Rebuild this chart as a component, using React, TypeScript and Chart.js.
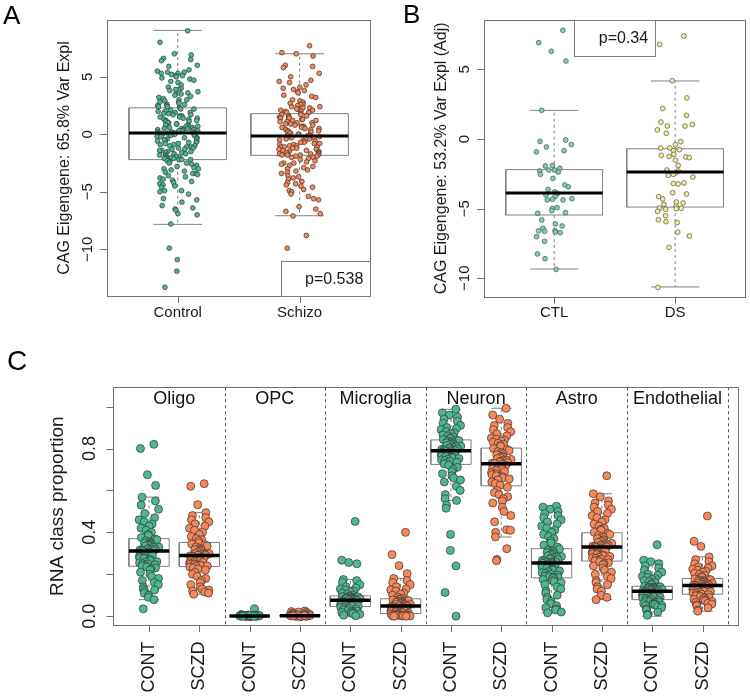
import React, { useEffect, useRef } from "react";
import { Chart, registerables } from "chart.js";

Chart.register(...registerables);

const FONT = '"Liberation Sans", Arial, Helvetica, sans-serif';

// ---------------- Panel A ----------------
const aGroups = ["Control", "Schizo"];
const aQ1 = [-2.2, -1.83];
const aMedian = [0.12, -0.15];
const aQ3 = [2.3, 1.8];
const aWhiskerLow = [-7.83, -7.08];
const aWhiskerHigh = [9.04, 7.0];
const aYTicks = [-10, -5, 0, 5];
const aYTickLabels = ["\u221210", "\u22125", "0", "5"];
const aYTitle = "CAG Eigengene: 65.8% Var Expl";
const aPValue = "p=0.538";
const aControl = [
  9.0, 8.0, 7.0, 6.9, 6.6, 6.5, 6.4, 6.0, 5.9, 5.6, 5.5, 5.4, 5.4, 5.3, 5.3, 5.2, 5.1, 5.1, 5.0, 4.9, 4.8, 4.7, 4.6, 4.5, 4.3,
  4.1, 4.0, 3.9, 3.9, 3.8, 3.7, 3.6, 3.5, 3.5, 3.4, 3.3, 3.2, 3.1, 3.0, 3.0, 2.9, 2.8, 2.8, 2.7, 2.6, 2.6, 2.5, 2.5, 2.4, 2.4,
  2.3, 2.2, 2.2, 2.1, 2.0, 2.0, 1.9, 1.9, 1.8, 1.8, 1.7, 1.7, 1.6, 1.6, 1.5, 1.5, 1.4, 1.4, 1.3, 1.3, 1.2, 1.2, 1.1, 1.1, 1.0,
  1.0, 0.9, 0.9, 0.8, 0.8, 0.7, 0.7, 0.7, 0.6, 0.6, 0.5, 0.5, 0.5, 0.4, 0.4, 0.4, 0.3, 0.3, 0.3, 0.2, 0.2, 0.2, 0.1, 0.1, 0.1,
  0.1, 0.0, 0.0, -0.1, -0.1, -0.2, -0.2, -0.3, -0.3, -0.4, -0.4, -0.5, -0.5, -0.6, -0.6, -0.7, -0.7, -0.8, -0.8, -0.9, -0.9,
  -1.0, -1.0, -1.1, -1.1, -1.2, -1.2, -1.3, -1.3, -1.4, -1.4, -1.5, -1.5, -1.6, -1.6, -1.7, -1.7, -1.8, -1.8, -1.9, -1.9,
  -2.0, -2.0, -2.0, -2.1, -2.1, -2.1, -2.2, -2.2, -2.2,
  -2.3, -2.4, -2.5, -2.5, -2.6, -2.7, -2.8, -2.9, -3.0, -3.0, -3.1, -3.2, -3.3, -3.4, -3.4, -3.5, -3.6, -3.7, -3.8, -3.9,
  -4.0, -4.1, -4.2, -4.3, -4.4, -4.5, -4.6, -4.9, -4.9, -5.0, -5.2, -5.6, -5.7, -5.9, -6.2, -6.4, -6.5, -6.6, -6.9, -7.0,
  -7.8, -9.9, -10.9, -11.9, -13.3,
];
const aSchizo = [
  7.7, 7.1, 7.0, 6.8, 6.0, 5.9, 5.8, 5.3, 5.0, 4.7, 4.6, 4.5, 4.3, 4.1, 4.0, 3.9, 3.8, 3.7, 3.6, 3.4, 3.3, 3.2, 3.0, 2.9,
  2.8, 2.7, 2.6, 2.6, 2.5, 2.4, 2.4, 2.3, 2.3, 2.2, 2.2, 2.1, 2.1, 2.0, 2.0, 1.9, 1.9, 1.8,
  1.7, 1.7, 1.6, 1.6, 1.5, 1.5, 1.4, 1.4, 1.3, 1.3, 1.2, 1.2, 1.1, 1.1, 1.0, 1.0, 0.9, 0.9, 0.8, 0.8, 0.7, 0.7, 0.6, 0.6,
  0.5, 0.5, 0.4, 0.4, 0.3, 0.3, 0.2, 0.2, 0.1, 0.1, 0.0, 0.0, -0.1, -0.1, -0.1, -0.1,
  -0.2, -0.3, -0.3, -0.4, -0.4, -0.5, -0.5, -0.6, -0.6, -0.7, -0.7, -0.8, -0.8, -0.9, -0.9, -1.0, -1.0, -1.1, -1.1, -1.1,
  -1.2, -1.2, -1.3, -1.3, -1.4, -1.4, -1.5, -1.5, -1.6, -1.6, -1.6, -1.7, -1.7, -1.7, -1.8, -1.8, -1.8, -1.8, -1.9, -1.9,
  -2.0, -2.0,
  -2.1, -2.2, -2.3, -2.4, -2.5, -2.5, -2.6, -2.7, -2.8, -2.9, -3.0, -3.1, -3.2, -3.3, -3.4, -3.6, -3.7, -3.8, -3.9, -4.1,
  -4.2, -4.3, -4.4, -4.5, -4.6, -4.8, -4.9, -5.0, -5.2, -5.4, -5.6, -5.7, -6.3, -6.5, -6.7, -6.9, -7.1, -8.8, -9.9,
];

// ---------------- Panel B ----------------
const bGroups = ["CTL", "DS"];
const bQ1 = [-5.46, -4.89];
const bMedian = [-3.88, -2.37];
const bQ3 = [-2.2, -0.7];
const bWhiskerLow = [-9.34, -10.63];
const bWhiskerHigh = [2.06, 4.17];
const bYTicks = [-10, -5, 0, 5];
const bYTickLabels = ["\u221210", "\u22125", "0", "5"];
const bYTitle = "CAG Eigengene: 53.2% Var Expl (Adj)";
const bPValue = "p=0.34";
const bCTL = [
  7.81, 6.92, 6.3, 5.6, 2.06, -0.07, -0.17, -0.4, -0.57, -0.84, -0.93, -1.94, -2.1, -2.23, -2.3, -2.23, -2.37, -1.9, -2.83,
  -2.54, -3.3, -3.43, -3.62, -3.8, -3.93, -4.02, -3.9, -4.14, -4.33, -4.38, -4.29, -4.38, -4.93, -4.98, -5.15, -5.29, -5.34,
  -5.82, -6.1, -6.25, -6.42, -6.6, -6.6, -6.68, -6.63, -6.73, -7.02, -7.35, -8.26, -8.6, -9.37,
];
const bDS = [
  7.4, 6.8, 4.19, 2.95, 2.2, 1.7, 1.22, 1.05, 0.93, 0.93, 0.65, 0.41, -0.19, -0.41, -0.65, -0.65, -0.77, -0.84, -1.1, -1.17,
  -1.29, -1.34, -1.25, -1.53, -1.9, -2.23, -2.3, -2.4, -2.54, -2.61, -2.73, -3.16, -3.23, -3.2, -3.86, -3.95, -4.14, -4.31,
  -4.53, -4.6, -4.7, -4.84, -4.96, -5.0, -5.05, -4.98, -5.2, -5.51, -5.8, -5.94, -6.0, -6.7, -6.97, -7.78, -10.66,
];

// ---------------- Panel C ----------------
const cCellTypes = ["Oligo", "OPC", "Microglia", "Neuron", "Astro", "Endothelial"];
const cConditions = ["CONT", "SCZD"];
const cQ1 = [0.238, 0.237, 0.0, 0.0, 0.046, 0.013, 0.724, 0.622, 0.183, 0.263, 0.079, 0.105];
const cMedian = [0.311, 0.289, 0.001, 0.002, 0.076, 0.049, 0.789, 0.727, 0.254, 0.33, 0.119, 0.146];
const cQ3 = [0.37, 0.352, 0.003, 0.005, 0.097, 0.083, 0.841, 0.802, 0.322, 0.398, 0.143, 0.18];
const cWhiskerLow = [0.079, 0.105, 0.0, 0.0, 0.0, 0.0, 0.552, 0.378, 0.016, 0.079, 0.0, 0.024];
const cWhiskerHigh = [0.568, 0.494, 0.008, 0.012, 0.175, 0.18, 0.987, 0.992, 0.525, 0.584, 0.267, 0.283];
const cYTicks = [0, 0.2, 0.4, 0.6, 0.8, 1.0];
const cYTickLabels = ["0.0", "", "0.4", "", "0.8", ""];
const cYTitle = "RNA class proportion";

const cOligoCont = [
  0.82, 0.8, 0.675, 0.624, 0.568, 0.55, 0.53, 0.51, 0.49, 0.47, 0.46, 0.45, 0.44, 0.43, 0.42, 0.41, 0.4, 0.39, 0.385, 0.375,
  0.368, 0.365, 0.36, 0.355, 0.35, 0.348, 0.345, 0.34, 0.338, 0.335, 0.33, 0.328, 0.325, 0.322, 0.32, 0.318, 0.316, 0.315,
  0.313, 0.312, 0.31, 0.305, 0.3, 0.298, 0.295, 0.29, 0.285, 0.28, 0.278, 0.275, 0.27, 0.265, 0.26, 0.258, 0.255, 0.25,
  0.248, 0.245, 0.242, 0.24, 0.235, 0.23, 0.225, 0.22, 0.21, 0.2, 0.19, 0.18, 0.17, 0.16, 0.15, 0.14, 0.13, 0.125, 0.12,
  0.11, 0.1, 0.09, 0.079, 0.035,
];
const cOligoSczd = [
  0.632, 0.62, 0.532, 0.494, 0.48, 0.47, 0.46, 0.45, 0.44, 0.43, 0.42, 0.41, 0.4, 0.39, 0.38, 0.37, 0.365, 0.36, 0.35, 0.345,
  0.34, 0.335, 0.33, 0.325, 0.32, 0.318, 0.315, 0.31, 0.305, 0.3, 0.298, 0.296, 0.294, 0.292, 0.291, 0.29, 0.288, 0.285,
  0.28, 0.277, 0.274, 0.27, 0.267, 0.264, 0.26, 0.257, 0.254, 0.25, 0.248, 0.246, 0.244, 0.242, 0.24, 0.238, 0.235, 0.23,
  0.225, 0.22, 0.21, 0.2, 0.19, 0.18, 0.17, 0.16, 0.15, 0.14, 0.13, 0.125, 0.12, 0.115, 0.11, 0.105,
];
const cOpcCont = [
  0.035, 0.008, 0.006, 0.005, 0.005, 0.004, 0.004, 0.003, 0.003, 0.003, 0.002, 0.002, 0.002, 0.002, 0.001, 0.001, 0.001,
  0.001, 0.001, 0.001, 0, 0, 0, 0, 0, 0, 0, 0, 0, 0, 0.002, 0.003, 0.001, 0, 0.004, 0.002, 0, 0.001, 0.003, 0,
];
const cOpcSczd = [
  0.025, 0.022, 0.02, 0.018, 0.015, 0.012, 0.01, 0.009, 0.008, 0.007, 0.006, 0.005, 0.005, 0.004, 0.004, 0.003, 0.003,
  0.002, 0.002, 0.002, 0.001, 0.001, 0.001, 0, 0, 0, 0, 0, 0, 0, 0.003, 0.002, 0.001, 0.004, 0.006, 0, 0.001, 0.002, 0, 0.003,
];
const cMicroCont = [
  0.452, 0.267, 0.256, 0.25, 0.175, 0.17, 0.16, 0.15, 0.14, 0.135, 0.13, 0.125, 0.12, 0.115, 0.11, 0.105, 0.1, 0.096, 0.095,
  0.094, 0.093, 0.092, 0.09, 0.089, 0.088, 0.087, 0.086, 0.085, 0.084, 0.083, 0.082, 0.08, 0.079, 0.078, 0.077, 0.075,
  0.073, 0.072, 0.07, 0.068, 0.066, 0.065, 0.063, 0.061, 0.06, 0.058, 0.056, 0.055, 0.053, 0.051, 0.05, 0.048, 0.047,
  0.045, 0.042, 0.04, 0.037, 0.035, 0.032, 0.03, 0.027, 0.025, 0.022, 0.02, 0.017, 0.015, 0.012, 0.01, 0.005, 0.002,
];
const cMicroSczd = [
  0.4, 0.294, 0.241, 0.203, 0.18, 0.17, 0.16, 0.15, 0.14, 0.13, 0.125, 0.12, 0.11, 0.105, 0.1, 0.09, 0.085, 0.082, 0.08,
  0.078, 0.076, 0.074, 0.072, 0.07, 0.068, 0.066, 0.064, 0.062, 0.06, 0.058, 0.056, 0.054, 0.052, 0.051, 0.05, 0.048,
  0.046, 0.044, 0.042, 0.04, 0.038, 0.036, 0.034, 0.032, 0.03, 0.028, 0.026, 0.024, 0.022, 0.02, 0.018, 0.016, 0.014,
  0.012, 0.011, 0.01, 0.009, 0.008, 0.007, 0.006, 0.005, 0.004, 0.003, 0.003, 0.002, 0.002, 0.001, 0.001, 0, 0,
];
const cNeuronCont = [
  0.987, 0.97, 0.96, 0.95, 0.94, 0.93, 0.92, 0.91, 0.9, 0.895, 0.89, 0.88, 0.875, 0.87, 0.865, 0.86, 0.855, 0.85, 0.847,
  0.843, 0.84, 0.838, 0.835, 0.832, 0.83, 0.827, 0.824, 0.821, 0.818, 0.815, 0.812, 0.809, 0.806, 0.803, 0.8, 0.798,
  0.796, 0.794, 0.792, 0.79, 0.788, 0.785, 0.782, 0.779, 0.776, 0.773, 0.77, 0.767, 0.764, 0.761, 0.758, 0.755, 0.752,
  0.749, 0.746, 0.743, 0.739, 0.735, 0.731, 0.727, 0.72, 0.71, 0.7, 0.69, 0.68, 0.67, 0.66, 0.65, 0.64, 0.62, 0.6, 0.58,
  0.56, 0.552, 0.53, 0.515, 0.39, 0.314, 0.24, 0.113, 0.0,
];
const cNeuronSczd = [
  0.992, 0.96, 0.94, 0.92, 0.91, 0.9, 0.89, 0.88, 0.87, 0.86, 0.85, 0.845, 0.84, 0.835, 0.83, 0.825, 0.82, 0.815, 0.81,
  0.8, 0.795, 0.79, 0.785, 0.78, 0.775, 0.77, 0.765, 0.76, 0.756, 0.752, 0.748, 0.745, 0.742, 0.739, 0.736, 0.733, 0.73,
  0.728, 0.725, 0.72, 0.715, 0.71, 0.705, 0.7, 0.695, 0.69, 0.685, 0.68, 0.675, 0.67, 0.665, 0.66, 0.655, 0.65, 0.64,
  0.633, 0.625, 0.615, 0.6, 0.59, 0.58, 0.57, 0.56, 0.55, 0.54, 0.52, 0.5, 0.48, 0.45, 0.413, 0.41, 0.4, 0.378, 0.322,
  0.271, 0.265,
];
const cAstroCont = [
  0.525, 0.52, 0.51, 0.5, 0.49, 0.48, 0.47, 0.46, 0.45, 0.44, 0.43, 0.42, 0.41, 0.4, 0.39, 0.38, 0.37, 0.36, 0.35, 0.34,
  0.33, 0.32, 0.316, 0.312, 0.308, 0.304, 0.3, 0.296, 0.292, 0.288, 0.285, 0.282, 0.279, 0.276, 0.273, 0.27, 0.267, 0.264,
  0.261, 0.259, 0.257, 0.255, 0.252, 0.249, 0.246, 0.243, 0.24, 0.236, 0.232, 0.228, 0.224, 0.22, 0.216, 0.212, 0.208,
  0.204, 0.2, 0.197, 0.194, 0.191, 0.188, 0.186, 0.184, 0.18, 0.175, 0.17, 0.165, 0.16, 0.15, 0.14, 0.13, 0.12, 0.11, 0.1,
  0.09, 0.08, 0.07, 0.06, 0.05, 0.04, 0.035, 0.03, 0.02, 0.016,
];
const cAstroSczd = [
  0.67, 0.584, 0.57, 0.55, 0.54, 0.53, 0.52, 0.51, 0.5, 0.49, 0.48, 0.47, 0.46, 0.45, 0.44, 0.43, 0.42, 0.415, 0.41, 0.4,
  0.395, 0.39, 0.385, 0.38, 0.375, 0.37, 0.365, 0.36, 0.356, 0.352, 0.348, 0.345, 0.342, 0.34, 0.338, 0.336, 0.334, 0.333,
  0.332, 0.331, 0.328, 0.324, 0.32, 0.316, 0.312, 0.308, 0.304, 0.3, 0.297, 0.294, 0.291, 0.288, 0.285, 0.282, 0.279,
  0.276, 0.273, 0.27, 0.267, 0.264, 0.26, 0.255, 0.25, 0.245, 0.24, 0.23, 0.22, 0.21, 0.2, 0.19, 0.18, 0.17, 0.16, 0.15,
  0.14, 0.13, 0.12, 0.1, 0.09, 0.079,
];
const cEndoCont = [
  0.341, 0.267, 0.26, 0.25, 0.24, 0.23, 0.22, 0.21, 0.2, 0.195, 0.19, 0.185, 0.18, 0.175, 0.17, 0.165, 0.16, 0.155, 0.15,
  0.142, 0.141, 0.14, 0.139, 0.138, 0.136, 0.134, 0.133, 0.132, 0.13, 0.129, 0.128, 0.127, 0.126, 0.125, 0.124, 0.122,
  0.121, 0.12, 0.118, 0.116, 0.114, 0.112, 0.11, 0.108, 0.106, 0.104, 0.102, 0.1, 0.098, 0.096, 0.094, 0.092, 0.09, 0.088,
  0.086, 0.083, 0.08, 0.077, 0.075, 0.072, 0.07, 0.068, 0.065, 0.062, 0.06, 0.057, 0.055, 0.052, 0.05, 0.045, 0.04, 0.035,
  0.03, 0.02, 0.01, 0.005,
];
const cEndoSczd = [
  0.478, 0.357, 0.333, 0.283, 0.27, 0.26, 0.25, 0.24, 0.235, 0.23, 0.225, 0.22, 0.215, 0.21, 0.205, 0.2, 0.195, 0.19, 0.185,
  0.178, 0.176, 0.174, 0.172, 0.17, 0.168, 0.166, 0.164, 0.162, 0.16, 0.158, 0.156, 0.154, 0.152, 0.151, 0.15, 0.149,
  0.148, 0.147, 0.145, 0.143, 0.141, 0.139, 0.137, 0.135, 0.133, 0.131, 0.129, 0.127, 0.125, 0.123, 0.121, 0.119, 0.117,
  0.114, 0.111, 0.108, 0.106, 0.103, 0.1, 0.097, 0.094, 0.09, 0.087, 0.084, 0.08, 0.077, 0.073, 0.07, 0.066, 0.062, 0.058,
  0.054, 0.05, 0.04, 0.03, 0.024,
];
const cSamples = [
  cOligoCont, cOligoSczd, cOpcCont, cOpcSczd, cMicroCont, cMicroSczd,
  cNeuronCont, cNeuronSczd, cAstroCont, cAstroSczd, cEndoCont, cEndoSczd,
];

// ---------------- helpers ----------------
const GREEN = "#4DB88F";
const ORANGE = "#F8875A";
const TEAL = "#7ECDB6";
const YELLOW = "#F1EC98";
const GAP = { x: NaN, y: NaN };

// deterministic horizontal spread of the strip points (display offset only)
function jitter(i: number, amp: number) {
  const s = Math.sin((i + 1) * 78.233 + 12.9898) * 43758.5453;
  const u = s - Math.floor(s);
  return (u * 2 - 1) * amp;
}

function boxDatasets(pos: number[], q1: number[], med: number[], q3: number[], lo: number[], hi: number[], medWidth: number) {
  const box: any[] = [];
  const whisk: any[] = [];
  const caps: any[] = [];
  const meds: any[] = [];
  pos.forEach((p, i) => {
    box.push({ x: p - 0.4, y: q1[i] }, { x: p + 0.4, y: q1[i] }, { x: p + 0.4, y: q3[i] }, { x: p - 0.4, y: q3[i] }, { x: p - 0.4, y: q1[i] }, GAP);
    whisk.push({ x: p, y: q3[i] }, { x: p, y: hi[i] }, GAP, { x: p, y: q1[i] }, { x: p, y: lo[i] }, GAP);
    caps.push({ x: p - 0.2, y: hi[i] }, { x: p + 0.2, y: hi[i] }, GAP, { x: p - 0.2, y: lo[i] }, { x: p + 0.2, y: lo[i] }, GAP);
    meds.push({ x: p - 0.4, y: med[i] }, { x: p + 0.4, y: med[i] }, GAP);
  });
  const line = { showLine: true, pointRadius: 0, spanGaps: false, fill: false, borderCapStyle: "butt" };
  return [
    { ...line, data: box, borderColor: "#808080", borderWidth: 1, order: 5 },
    { ...line, data: whisk, borderColor: "#808080", borderWidth: 1, borderDash: [3, 3], order: 5 },
    { ...line, data: caps, borderColor: "#808080", borderWidth: 1, order: 5 },
    { ...line, data: meds, borderColor: "#000000", borderWidth: medWidth, order: 0 },
  ];
}

function pointDataset(values: number[], pos: number, amp: number, color: string, radius: number, border: string) {
  return {
    data: values.map((v, i) => ({ x: pos + jitter(i, amp), y: v })),
    showLine: false,
    pointRadius: radius,
    pointBackgroundColor: color,
    pointBorderColor: border,
    pointBorderWidth: 0.7,
    order: 2,
  };
}

type Spec = {
  letter: string;
  letterX: number;
  letterY: number;
  letterSize: number;
  yTicks: number[];
  yTickLabels: string[];
  yTitle: string;
  yTitleX: number;
  yTitleSize: number;
  yLabelOffset: number;
  tickFont: number;
  xPositions: number[];
  xLabels: string[];
  xRotated: boolean;
  xLabelOffset: number;
  legend?: { text: string; mode: "bottomright" | "top"; w: number; h: number };
  separators?: number[];
  cellLabels?: { text: string; x: number }[];
};

function decoPlugin(spec: Spec) {
  return {
    id: "deco",
    beforeDatasetsDraw(chart: any) {
      const { ctx, chartArea: a, scales } = chart;
      const xs = scales.x;
      ctx.save();
      if (spec.separators) {
        ctx.strokeStyle = "#555";
        ctx.lineWidth = 1;
        ctx.setLineDash([3, 3]);
        for (const s of spec.separators) {
          const px = Math.round(xs.getPixelForValue(s)) + 0.5;
          ctx.beginPath();
          ctx.moveTo(px, a.top);
          ctx.lineTo(px, a.bottom);
          ctx.stroke();
        }
        ctx.setLineDash([]);
      }
      if (spec.cellLabels) {
        ctx.fillStyle = "#111";
        ctx.font = `18px ${FONT}`;
        ctx.textAlign = "center";
        ctx.textBaseline = "middle";
        for (const c of spec.cellLabels) {
          ctx.fillText(c.text, xs.getPixelForValue(c.x), a.top + 12);
        }
      }
      ctx.restore();
    },
    afterDraw(chart: any) {
      const { ctx, chartArea: a, scales } = chart;
      const xs = scales.x;
      const ys = scales.y;
      ctx.save();
      // frame
      ctx.strokeStyle = "#707070";
      ctx.lineWidth = 1;
      ctx.strokeRect(Math.round(a.left) + 0.5, Math.round(a.top) + 0.5, Math.round(a.right - a.left), Math.round(a.bottom - a.top));
      // y ticks
      ctx.fillStyle = "#1a1a1a";
      ctx.font = `${spec.tickFont}px ${FONT}`;
      spec.yTicks.forEach((t, i) => {
        const py = Math.round(ys.getPixelForValue(t)) + 0.5;
        ctx.beginPath();
        ctx.moveTo(a.left, py);
        ctx.lineTo(a.left - 7, py);
        ctx.stroke();
        const lab = spec.yTickLabels[i];
        if (lab) {
          ctx.save();
          ctx.translate(a.left - spec.yLabelOffset, ys.getPixelForValue(t));
          ctx.rotate(-Math.PI / 2);
          ctx.textAlign = "center";
          ctx.textBaseline = "middle";
          ctx.fillText(lab, 0, 0);
          ctx.restore();
        }
      });
      // x ticks
      spec.xPositions.forEach((p, i) => {
        const px = Math.round(xs.getPixelForValue(p)) + 0.5;
        ctx.beginPath();
        ctx.moveTo(px, a.bottom);
        ctx.lineTo(px, a.bottom + 7);
        ctx.stroke();
        ctx.save();
        ctx.translate(xs.getPixelForValue(p), a.bottom + spec.xLabelOffset);
        if (spec.xRotated) {
          ctx.rotate(-Math.PI / 2);
          ctx.textAlign = "right";
        } else {
          ctx.textAlign = "center";
        }
        ctx.textBaseline = "middle";
        ctx.fillText(spec.xLabels[i], 0, 0);
        ctx.restore();
      });
      // y title
      ctx.save();
      ctx.font = `${spec.yTitleSize}px ${FONT}`;
      ctx.translate(spec.yTitleX, (a.top + a.bottom) / 2);
      ctx.rotate(-Math.PI / 2);
      ctx.textAlign = "center";
      ctx.textBaseline = "middle";
      ctx.fillText(spec.yTitle, 0, 0);
      ctx.restore();
      // legend
      if (spec.legend) {
        const L = spec.legend;
        let lx: number, ly: number;
        if (L.mode === "bottomright") {
          lx = a.right - L.w;
          ly = a.bottom - L.h;
        } else {
          lx = (a.left + a.right) / 2 - L.w / 2;
          ly = a.top;
        }
        ctx.fillStyle = "#ffffff";
        ctx.fillRect(lx, ly, L.w, L.h);
        ctx.strokeStyle = "#7a7a7a";
        ctx.strokeRect(Math.round(lx) + 0.5, Math.round(ly) + 0.5, Math.round(L.w), Math.round(L.h));
        ctx.fillStyle = "#1a1a1a";
        ctx.font = `16px ${FONT}`;
        ctx.textAlign = "right";
        ctx.textBaseline = "middle";
        ctx.fillText(L.text, lx + L.w - 7, ly + L.h / 2 + 1);
      }
      // panel letter
      ctx.fillStyle = "#000";
      ctx.font = `${spec.letterSize}px ${FONT}`;
      ctx.textAlign = "left";
      ctx.textBaseline = "alphabetic";
      ctx.fillText(spec.letter, spec.letterX, spec.letterY);
      ctx.restore();
    },
  };
}

function ChartPanel({ build, left, top, width, height }: any) {
  const ref = useRef<HTMLCanvasElement | null>(null);
  useEffect(() => {
    if (!ref.current) return;
    const chart = new Chart(ref.current, build());
    return () => chart.destroy();
  }, []);
  return (
    <canvas
      ref={ref}
      width={width}
      height={height}
      style={{ position: "absolute", left, top, width, height }}
    />
  );
}

function baseOptions(pad: any, xmin: number, xmax: number, ymin: number, ymax: number) {
  return {
    responsive: false,
    devicePixelRatio: 1,
    animation: false,
    events: [],
    layout: { padding: pad },
    plugins: { legend: { display: false }, tooltip: { enabled: false } },
    scales: {
      x: { type: "linear", display: false, min: xmin, max: xmax },
      y: { type: "linear", display: false, min: ymin, max: ymax },
    },
  };
}

function buildA() {
  const pos = [1, 2];
  const spec: Spec = {
    letter: "A", letterX: 3, letterY: 23.5, letterSize: 26,
    yTicks: aYTicks, yTickLabels: aYTickLabels, yTitle: aYTitle, yTitleX: 65, yTitleSize: 16,
    yLabelOffset: 19, tickFont: 15,
    xPositions: pos, xLabels: aGroups, xRotated: false, xLabelOffset: 17,
    legend: { text: aPValue, mode: "bottomright", w: 89, h: 35 },
  };
  return {
    type: "scatter",
    data: {
      datasets: [
        ...boxDatasets(pos, aQ1, aMedian, aQ3, aWhiskerLow, aWhiskerHigh, 3),
        pointDataset(aControl, 1, 0.17, GREEN, 2.4, "#2f3b36"),
        pointDataset(aSchizo, 2, 0.17, ORANGE, 2.4, "#3b2f2a"),
      ],
    },
    options: baseOptions({ left: 107, right: 3, top: 20, bottom: 24 }, 0.42, 2.58, -14.06, 9.94),
    plugins: [decoPlugin(spec)],
  };
}

function buildB() {
  const pos = [1, 2];
  const spec: Spec = {
    letter: "B", letterX: 28, letterY: 23, letterSize: 26,
    yTicks: bYTicks, yTickLabels: bYTickLabels, yTitle: bYTitle, yTitleX: 67, yTitleSize: 16,
    yLabelOffset: 19, tickFont: 15,
    xPositions: pos, xLabels: bGroups, xRotated: false, xLabelOffset: 16.5,
    legend: { text: bPValue, mode: "top", w: 81, h: 36 },
  };
  return {
    type: "scatter",
    data: {
      datasets: [
        ...boxDatasets(pos, bQ1, bMedian, bQ3, bWhiskerLow, bWhiskerHigh, 3),
        pointDataset(bCTL, 1, 0.15, TEAL, 2.4, "#4a5552"),
        pointDataset(bDS, 2, 0.15, YELLOW, 2.4, "#55534a"),
      ],
    },
    options: baseOptions({ left: 109, right: 3.3, top: 20, bottom: 23.3 }, 0.42, 2.58, -11.33, 8.55),
    plugins: [decoPlugin(spec)],
  };
}

function buildC() {
  const pos = cSamples.map((_, i) => i + 1);
  const labels = pos.map((_, i) => cConditions[i % 2]);
  const spec: Spec = {
    letter: "C", letterX: 7, letterY: 40, letterSize: 28,
    yTicks: cYTicks, yTickLabels: cYTickLabels, yTitle: cYTitle, yTitleX: 58, yTitleSize: 19,
    yLabelOffset: 23, tickFont: 18,
    xPositions: pos, xLabels: labels, xRotated: true, xLabelOffset: 16.5,
    separators: [2.5, 4.5, 6.5, 8.5, 10.5, 12.5],
    cellLabels: cCellTypes.map((t, i) => ({ text: t, x: i * 2 + 1.5 })),
  };
  return {
    type: "scatter",
    data: {
      datasets: [
        ...boxDatasets(pos, cQ1, cMedian, cQ3, cWhiskerLow, cWhiskerHigh, 3.5),
        ...cSamples.map((vals, i) =>
          pointDataset(vals, i + 1, 0.2, i % 2 === 0 ? GREEN : ORANGE, 4, "#333333")
        ),
      ],
    },
    options: baseOptions({ left: 113.3, right: 11.7, top: 57.3, bottom: 71 }, 0.29, 12.71, -0.042, 1.092),
    plugins: [decoPlugin(spec)],
  };
}

export default function App() {
  return (
    <div style={{ position: "absolute", left: 0, top: 0, width: 750, height: 696, background: "#fff", overflow: "hidden" }}>
      <ChartPanel build={buildA} left={0} top={0} width={375} height={320} />
      <ChartPanel build={buildB} left={375} top={0} width={375} height={320} />
      <ChartPanel build={buildC} left={0} top={330} width={750} height={366} />
    </div>
  );
}
